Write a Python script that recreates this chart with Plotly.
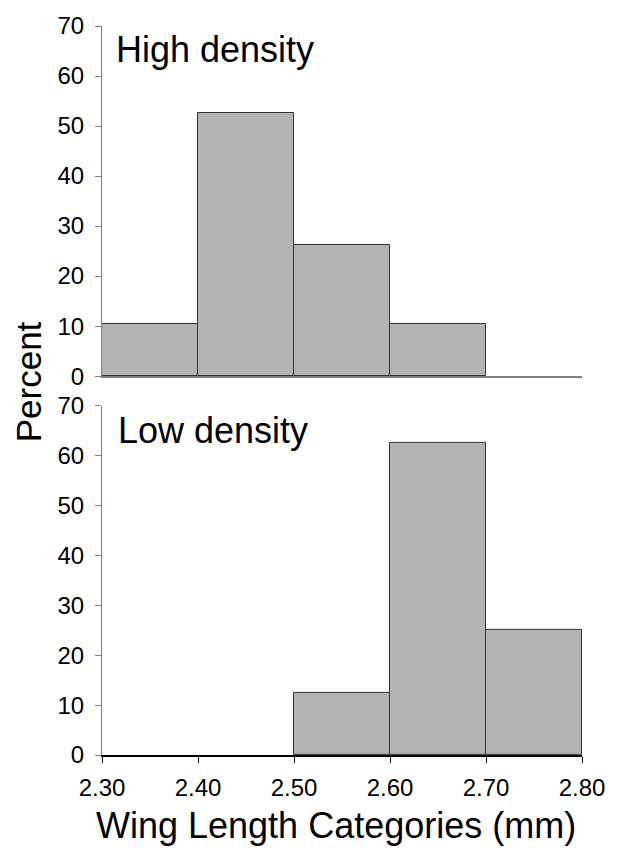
import plotly.graph_objects as go
from plotly.subplots import make_subplots

bin_centers = [2.35, 2.45, 2.55, 2.65, 2.75]
high_density = [10.5, 52.6, 26.3, 10.5, None]
low_density = [None, None, 12.5, 62.5, 25.0]
x_ticks = [2.30, 2.40, 2.50, 2.60, 2.70, 2.80]
x_tick_labels = ["2.30", "2.40", "2.50", "2.60", "2.70", "2.80"]
y_ticks = [0, 10, 20, 30, 40, 50, 60, 70]

FONT = "Liberation Sans, Arial, sans-serif"
L, R, T, B, W, H = 102, 27, 20, 97, 617, 852
PW, PH = W - L - R, H - T - B


def px_x(x):
    return (x - L) / PW


def px_y(y):
    return (H - B - y) / PH


fig = make_subplots(rows=2, cols=1, shared_xaxes=False)
bar_style = dict(marker=dict(color="#b3b3b3", line=dict(color="#333333", width=1)),
                 width=0.1, showlegend=False)
fig.add_trace(go.Bar(x=bin_centers, y=high_density, **bar_style), row=1, col=1)
fig.add_trace(go.Bar(x=bin_centers, y=low_density, **bar_style), row=2, col=1)

common_x = dict(range=[2.3, 2.8], showgrid=False, zeroline=False, showline=True,
                tickvals=x_ticks, ticktext=x_tick_labels,
                tickfont=dict(family=FONT, size=24, color="black"))
common_y = dict(range=[0, 70], tickvals=y_ticks, showgrid=False, zeroline=False,
                showline=True, linecolor="#808080", linewidth=1,
                ticks="outside", ticklen=6, tickcolor="#808080",
                ticklabelstandoff=6,
                tickfont=dict(family=FONT, size=24, color="black"))

fig.update_layout(
    width=W, height=H,
    margin=dict(l=L, r=R, t=T, b=B),
    paper_bgcolor="white", plot_bgcolor="white",
    bargap=0,
    xaxis=dict(common_x, domain=[0, 1], showticklabels=False, ticks="",
               linecolor="#808080", linewidth=2),
    yaxis=dict(common_y, domain=[px_y(373), 1.0]),
    xaxis2=dict(common_x, domain=[0, 1], ticks="outside", ticklen=6,
                tickcolor="black", linecolor="black", linewidth=1.5,
                ticklabelstandoff=4),
    yaxis2=dict(common_y, domain=[0.0, px_y(403)]),
    annotations=[
        dict(text="High density", x=px_x(114), y=px_y(44), xref="paper", yref="paper",
             xanchor="left", yanchor="middle", showarrow=False,
             font=dict(family=FONT, size=36, color="black")),
        dict(text="Low density", x=px_x(116), y=px_y(428), xref="paper", yref="paper",
             xanchor="left", yanchor="middle", showarrow=False,
             font=dict(family=FONT, size=36, color="black")),
        dict(text="Percent", x=px_x(27), y=px_y(379), xref="paper", yref="paper",
             showarrow=False, textangle=-90, xanchor="center", yanchor="middle",
             font=dict(family=FONT, size=35, color="black")),
        dict(text="Wing Length Categories (mm)", x=px_x(340), y=px_y(826),
             xref="paper", yref="paper", xanchor="center", yanchor="middle",
             showarrow=False, font=dict(family=FONT, size=36, color="black")),
    ],
)

fig.write_html("out.html")
